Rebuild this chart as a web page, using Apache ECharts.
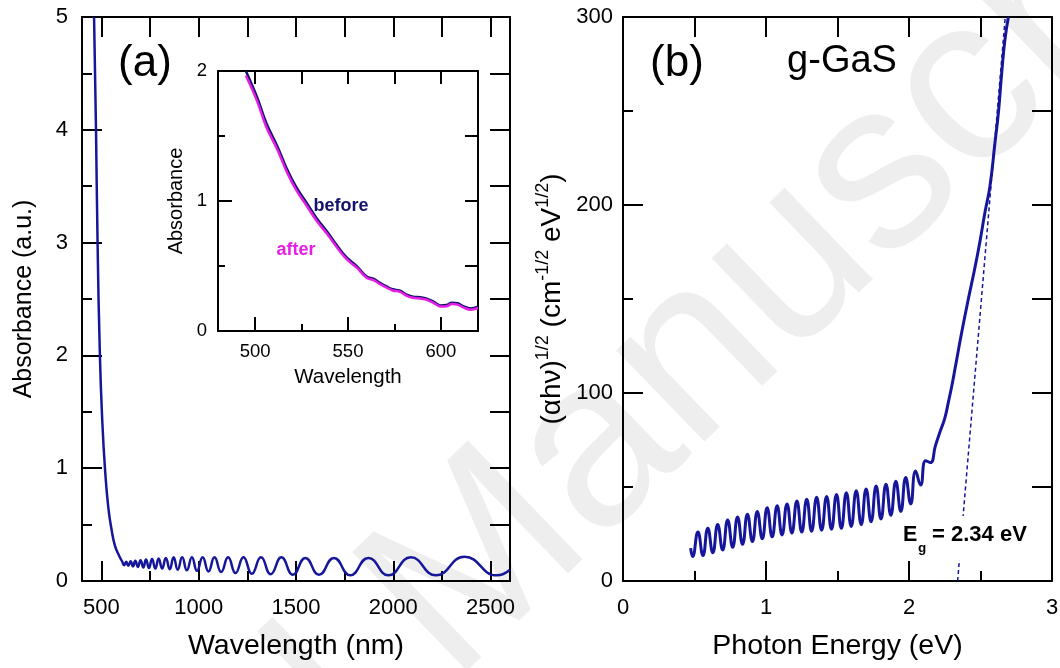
<!DOCTYPE html>
<html>
<head>
<meta charset="utf-8">
<script src="https://cdn.jsdelivr.net/npm/echarts@6.0.0/dist/echarts.min.js"></script>
<style>
  html, body { margin: 0; padding: 0; background: #fff; }
  #chart { width: 1060px; height: 668px; }
</style>
</head>
<body>
<div id="chart"></div>
<script>
// (a) absorbance spectrum, peaks and troughs of the fringes
const wavelength = [462, 472, 480, 492, 504, 518, 535, 553, 570, 592,
  606, 616, 627, 638, 650, 662, 674, 687, 701, 715, 729, 744, 760, 777, 794, 812,
  831, 851, 871, 892, 915, 939, 965, 991, 1020, 1050, 1081, 1115, 1151, 1189,
  1230, 1273, 1320, 1370, 1425, 1484, 1548, 1618, 1695, 1779, 1872, 1975,
  2090, 2219, 2366, 2533, 2600]
const absorbance = [5.0, 4.0, 3.0, 2.0, 1.43, 1.0, 0.655, 0.446, 0.31, 0.22,
  0.175, 0.14, 0.17, 0.135, 0.175, 0.13, 0.18, 0.125, 0.185, 0.12, 0.19, 0.115, 0.195, 0.11, 0.2, 0.11,
  0.205, 0.105, 0.21, 0.1, 0.21, 0.095, 0.21, 0.09, 0.21, 0.085, 0.21, 0.08, 0.21, 0.07,
  0.21, 0.065, 0.21, 0.06, 0.21, 0.055, 0.205, 0.055, 0.205, 0.05, 0.205, 0.05,
  0.21, 0.05, 0.215, 0.05, 0.1]

// inset: before / after
const insetWavelength = [495, 501, 506, 512, 517, 522, 528, 533, 539, 544, 549, 555, 560,
  564, 567, 571, 574, 578, 582, 585, 589, 592, 596, 600, 603, 606, 609, 612, 616, 620]
const insetBefore = [2.0, 1.80, 1.60, 1.42, 1.25, 1.11, 0.98, 0.87, 0.76, 0.66, 0.57, 0.495, 0.42,
  0.40, 0.372, 0.341, 0.321, 0.31, 0.277, 0.264, 0.259, 0.251, 0.226, 0.197, 0.2, 0.218, 0.213, 0.192, 0.174, 0.187]
const insetAfter = [1.965, 1.77, 1.57, 1.395, 1.225, 1.087, 0.958, 0.85, 0.742, 0.645, 0.557, 0.483, 0.41,
  0.39, 0.362, 0.332, 0.312, 0.301, 0.268, 0.255, 0.25, 0.242, 0.217, 0.188, 0.19, 0.208, 0.203, 0.182, 0.164, 0.177]

// (b) Tauc plot
const photonEnergy = [0.473, 0.487, 0.524, 0.559, 0.593, 0.628, 0.662, 0.697, 0.732, 0.767,
  0.801, 0.836, 0.870, 0.905, 0.939, 0.974, 1.008, 1.043, 1.078, 1.112, 1.147, 1.181,
  1.216, 1.250, 1.285, 1.319, 1.354, 1.389, 1.424, 1.458, 1.493, 1.527, 1.562, 1.596,
  1.631, 1.666, 1.700, 1.735, 1.770, 1.804, 1.839, 1.873, 1.908, 1.943, 1.977, 2.012,
  2.046, 2.081, 2.116, 2.150, 2.185, 2.22, 2.25, 2.275, 2.30, 2.322, 2.368, 2.415,
  2.462, 2.497, 2.531, 2.566, 2.601, 2.625, 2.648, 2.671, 2.695]
const taucValue = [17.5, 13, 26, 13.5, 28, 15, 30, 16.5, 32.5, 18,
  34, 19.5, 35.5, 21, 37, 22.5, 39, 23.5, 40, 24.5, 41, 25.5,
  42.5, 26, 43.5, 26.5, 44.5, 27, 45, 27.5, 46, 28, 47, 29,
  48, 30, 49, 31.5, 50.5, 33, 51.5, 35, 53, 37, 55, 41,
  58.5, 51, 64, 63, 72, 80, 86.5, 95, 104, 113, 132, 150,
  167, 181, 196, 210, 233, 249, 270, 288, 300]
const fitEnergy = [2.34, 2.673]
const fitValue = [0, 300]

// tick values
const aMajorTicks = [500, 1000, 1500, 2000, 2500]
const aMinorTicks = [750, 1250, 1750, 2250]
const aTopTicks = [500, 750, 1000, 1250, 1500, 1750, 2000, 2250, 2500]
const insetMajorTicks = [500, 550, 600]
const insetMinorTicks = [525, 575]
const insetTopTicks = [500, 525, 550, 575, 600]

const FONT = '"Liberation Sans", Arial, sans-serif'
const BLUE = '#16169a'
const pairs = (xs, ys) => xs.map((x, i) => [x, ys[i]])

function ax(o) {
  return {
    type: 'value',
    gridIndex: o.grid,
    position: o.pos,
    min: o.min,
    max: o.max,
    interval: o.interval,
    axisLine: { show: true, onZero: false, lineStyle: { color: '#000', width: 2 } },
    axisTick: { show: true, inside: true, length: o.tick, customValues: o.ticks, lineStyle: { color: '#000', width: 2 } },
    minorTick: { show: !!o.minor, splitNumber: 2, length: o.minor || 0, lineStyle: { color: '#000', width: 2 } },
    axisLabel: {
      show: !!o.font, customValues: o.labels, fontSize: o.font, margin: o.margin,
      color: '#000', fontFamily: FONT, formatter: v => String(v)
    },
    splitLine: { show: false },
    name: o.name,
    nameLocation: 'middle',
    nameGap: o.gap,
    nameMoveOverlap: false,
    nameTextStyle: Object.assign({ fontSize: o.nameSize, color: '#000', fontFamily: FONT }, o.nameStyle || {})
  }
}

function label(x, y, text, size, extra) {
  return {
    type: 'text', z: 11, x: x, y: y,
    style: Object.assign({
      text: text, fontSize: size, fontFamily: FONT, fill: '#000',
      align: 'center', verticalAlign: 'middle', textAlign: 'center', textVerticalAlign: 'middle'
    }, extra || {})
  }
}

const chart = echarts.init(document.getElementById('chart'))

const option = {
  animation: false,
  backgroundColor: '#fff',
  grid: [
    { left: 82, top: 17, width: 428, height: 564, outerBoundsMode: 'none' },
    { left: 623, top: 17, width: 429, height: 564, outerBoundsMode: 'none' },
    { left: 218, top: 71, width: 260, height: 260, outerBoundsMode: 'none' }
  ],
  xAxis: [
    ax({ grid: 0, pos: 'bottom', min: 400, max: 2600, tick: 20, ticks: aMajorTicks, labels: aMajorTicks,
      font: 22, margin: 16, name: 'Wavelength (nm)', gap: 51, nameSize: 28.5 }),
    ax({ grid: 0, pos: 'bottom', min: 400, max: 2600, tick: 10, ticks: aMinorTicks }),
    ax({ grid: 0, pos: 'top', min: 400, max: 2600, tick: 20, ticks: aTopTicks }),
    ax({ grid: 1, pos: 'bottom', min: 0, max: 3, interval: 1, tick: 20, minor: 10,
      font: 22, margin: 16, name: 'Photon Energy (eV)', gap: 51, nameSize: 28.5 }),
    ax({ grid: 1, pos: 'top', min: 0, max: 3, interval: 0.5, tick: 20 }),
    ax({ grid: 2, pos: 'bottom', min: 480, max: 620, tick: 14, ticks: insetMajorTicks, labels: insetMajorTicks,
      font: 18.5, margin: 11, name: 'Wavelength', gap: 36, nameSize: 20.5 }),
    ax({ grid: 2, pos: 'bottom', min: 480, max: 620, tick: 7, ticks: insetMinorTicks }),
    ax({ grid: 2, pos: 'top', min: 480, max: 620, tick: 13, ticks: insetTopTicks })
  ],
  yAxis: [
    ax({ grid: 0, pos: 'left', min: 0, max: 5, interval: 1, tick: 20, minor: 10,
      font: 22, margin: 14, name: 'Absorbance (a.u.)', gap: 45, nameSize: 25 }),
    ax({ grid: 0, pos: 'right', min: 0, max: 5, interval: 0.5, tick: 20 }),
    ax({ grid: 1, pos: 'left', min: 0, max: 300, interval: 100, tick: 20, minor: 10,
      font: 22, margin: 10, gap: 57,
      name: '{m|(αhν)}{s|1/2}{m| (cm}{s|-1/2}{m| eV}{s|1/2}{m|)}',
      nameStyle: {
        rich: {
          m: { fontSize: 28, fontFamily: FONT, color: '#000', lineHeight: 32, verticalAlign: 'bottom' },
          s: { fontSize: 18, fontFamily: FONT, color: '#000', lineHeight: 18, verticalAlign: 'top' }
        }
      } }),
    ax({ grid: 1, pos: 'right', min: 0, max: 300, interval: 50, tick: 20 }),
    ax({ grid: 2, pos: 'left', min: 0, max: 2, interval: 1, tick: 14, minor: 7,
      font: 18.5, margin: 11, name: 'Absorbance', gap: 32, nameSize: 20 }),
    ax({ grid: 2, pos: 'right', min: 0, max: 2, interval: 0.5, tick: 13 })
  ],
  series: [
    {
      type: 'line', xAxisIndex: 0, yAxisIndex: 0, data: pairs(wavelength, absorbance),
      smooth: 0.5, symbol: 'none', lineStyle: { color: BLUE, width: 2.5 }
    },
    {
      type: 'line', xAxisIndex: 5, yAxisIndex: 4, data: pairs(insetWavelength, insetBefore),
      smooth: 0.4, symbol: 'none', lineStyle: { color: '#12126e', width: 2.5 }
    },
    {
      type: 'line', xAxisIndex: 5, yAxisIndex: 4, data: pairs(insetWavelength, insetAfter),
      smooth: 0.4, symbol: 'none', lineStyle: { color: '#e41ee4', width: 2.5 }
    },
    {
      type: 'line', xAxisIndex: 3, yAxisIndex: 2, data: pairs(photonEnergy, taucValue),
      smooth: 0.5, symbol: 'none', lineStyle: { color: BLUE, width: 3 }
    },
    {
      type: 'line', xAxisIndex: 3, yAxisIndex: 2, data: pairs(fitEnergy, fitValue),
      symbol: 'none', lineStyle: { color: BLUE, width: 1.5, type: [4, 3] }
    }
  ],
  graphic: [
    {
      type: 'text', z: -1, x: 445, y: 600, rotation: 44 * Math.PI / 180, silent: true,
      style: { text: 'Accepted Manuscript', fontSize: 240, fontFamily: FONT, fill: '#eeeeee',
        align: 'center', verticalAlign: 'middle', textAlign: 'center', textVerticalAlign: 'middle' }
    },
    label(145, 64, '(a)', 44),
    label(677, 64, '(b)', 44),
    label(842, 62, 'g-GaS', 38),
    label(341, 206, 'before', 18, { fontWeight: 'bold', fill: '#12126e' }),
    label(296, 250, 'after', 18, { fontWeight: 'bold', fill: '#e41ee4' }),
    {
      type: 'rect', z: 10, shape: { x: 898, y: 516, width: 140, height: 44 }, style: { fill: '#fff' }
    },
    label(903, 535, 'E', 21.5, { fontWeight: 'bold', align: 'left', textAlign: 'left' }),
    label(918, 548, 'g', 13.5, { fontWeight: 'bold', align: 'left', textAlign: 'left' }),
    label(932, 535, '= 2.34 eV', 22, { fontWeight: 'bold', align: 'left', textAlign: 'left' })
  ]
}

chart.setOption(option)
</script>
</body>
</html>
